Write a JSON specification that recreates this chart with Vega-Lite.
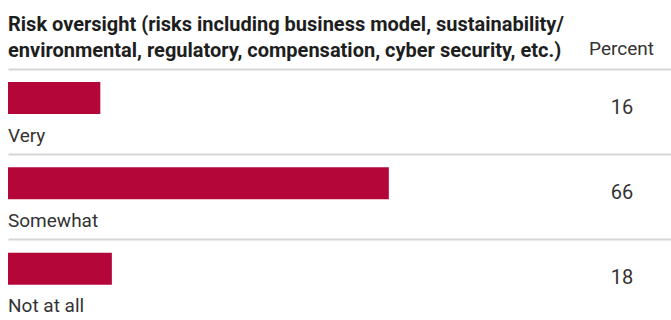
{
  "$schema": "https://vega.github.io/schema/vega-lite/v6.json",
  "width": 663,
  "height": 256,
  "autosize": {"type": "none"},
  "padding": {"left": 8, "top": 69, "right": 0, "bottom": 0},
  "background": "white",
  "title": {
    "text": ["Risk oversight (risks including business model, sustainability/", "environmental, regulatory, compensation, cyber security, etc.)"],
    "anchor": "start",
    "frame": "group",
    "font": "Roboto, sans-serif",
    "fontSize": 20,
    "fontWeight": "bold",
    "color": "#1e1e1e",
    "lineHeight": 26.5,
    "baseline": "bottom",
    "offset": -42
  },
  "data": {
    "values": [
      {"answer": "Very", "percent": 16},
      {"answer": "Somewhat", "percent": 66},
      {"answer": "Not at all", "percent": 18}
    ]
  },
  "encoding": {
    "y": {
      "field": "answer",
      "type": "nominal",
      "sort": ["Very", "Somewhat", "Not at all"],
      "scale": {"paddingInner": 0, "paddingOuter": 0},
      "axis": {
        "title": null,
        "labels": false,
        "ticks": false,
        "domain": false,
        "grid": true,
        "bandPosition": 0,
        "gridColor": "#d6d6d6",
        "gridWidth": 2
      }
    }
  },
  "layer": [
    {
      "mark": {"type": "bar", "color": "#b40639", "height": 32, "yOffset": -13.7},
      "encoding": {
        "x": {
          "field": "percent",
          "type": "quantitative",
          "scale": {"domain": [0, 114.9], "nice": false, "zero": true},
          "axis": {
            "orient": "top",
            "title": "Percent",
            "labels": false,
            "ticks": false,
            "domain": false,
            "grid": false,
            "titleFont": "Roboto, sans-serif",
            "titleFontSize": 19,
            "titleFontWeight": "normal",
            "titleColor": "#333333",
            "titleAlign": "center",
            "titleAnchor": null,
            "titleBaseline": "alphabetic",
            "titleX": 613,
            "titleY": -15
          }
        }
      }
    },
    {
      "mark": {"type": "text", "align": "left", "baseline": "alphabetic", "dy": 30, "font": "Roboto, sans-serif", "fontSize": 19, "color": "#333333"},
      "encoding": {
        "x": {"datum": 0, "type": "quantitative"},
        "text": {"field": "answer"}
      }
    },
    {
      "mark": {"type": "text", "align": "center", "baseline": "alphabetic", "dy": 2, "font": "Roboto, sans-serif", "fontSize": 20, "color": "#333333"},
      "encoding": {
        "x": {"datum": 106.4, "type": "quantitative"},
        "text": {"field": "percent"}
      }
    }
  ],
  "config": {"view": {"stroke": null}}
}
